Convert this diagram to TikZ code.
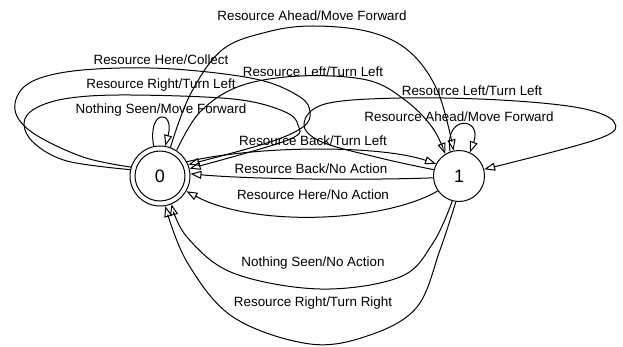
\documentclass[tikz,border=0pt]{standalone}
\usepackage{fontspec}
\setmainfont{Liberation Sans}
\usetikzlibrary{arrows.meta}
\begin{document}
\begin{tikzpicture}[x=1pt,y=1pt,
  edge/.style={line width=1pt, -{Triangle[open,length=11pt,width=8pt]}},
  lbl/.style={font=\fontsize{13.4}{15}\selectfont, inner sep=0pt},
  state/.style={circle, draw, line width=1pt, inner sep=0pt, font=\fontsize{18}{20}\selectfont}]
\useasboundingbox (0,0) rectangle (623,-347);

% states
\node[state, minimum size=60pt] (n0) at (160,-176) {};
\node[state, minimum size=50pt] (n0in) at (n0) {0};
\node[state, minimum size=51pt] (n1) at (459,-176) {1};

% labels
\node[lbl] (la) at (312,-16) {Resource Ahead/Move Forward};
\node[lbl] (lb) at (161,-60) {Resource Here/Collect};
\node[lbl] (lc) at (313,-72) {Resource Left/Turn Left};
\node[lbl] (ld) at (161,-85) {Resource Right/Turn Left};
\node[lbl] (le) at (472,-91) {Resource Left/Turn Left};
\node[lbl] (lf) at (161,-110) {Nothing Seen/Move Forward};
\node[lbl] (lg) at (459,-117) {Resource Ahead/Move Forward};
\node[lbl] (lh) at (313,-141) {Resource Back/Turn Left};
\node[lbl] (li) at (311,-169) {Resource Back/No Action};
\node[lbl] (lj) at (313,-195) {Resource Here/No Action};
\node[lbl] (lk) at (313,-263) {Nothing Seen/No Action};
\node[lbl] (ll) at (313,-303) {Resource Right/Turn Right};

% self loops on 0
\draw[edge] (n0.102) .. controls +(100:38) and +(75:38) .. (n0.80);
\draw[edge] plot[smooth, tension=0.6] coordinates {(n0.163) (83,-157) (33,-133) (15,-110) (25,-86) (60,-73) (120,-68) (187,-70) (260,-80) (300,-97) (310,-112) (303,-127) (267,-143) (n0.22)};
\draw[edge] plot[smooth, tension=0.6] coordinates {(n0.168) (67,-161) (34,-143) (24,-123) (36,-108) (70,-98) (130,-95) (233,-99) (283,-111) (298,-125) (288,-140) (n0.14)};

% self loops on 1
\draw[edge] (n1.110) .. controls +(100:38) and +(70:38) .. (n1.65);
\draw[edge] plot[smooth, tension=0.6] coordinates {(n1.166) (380,-158) (322,-142) (304,-124) (325,-104) (400,-98) (500,-100) (580,-108) (614,-122) (598,-139) (n1.15)};

% 0 -> 1
\draw[edge] plot[smooth, tension=0.6] coordinates {(n0.70) (190,-95) (222,-50) (267,-32) (313,-26) (370,-32) (410,-52) (438,-92) (n1.102)};
\draw[edge] plot[smooth, tension=0.6] coordinates {(n0.57) (200,-112) (240,-86) (300,-76) (367,-80) (405,-100) (432,-127) (n1.122)};
\draw[edge] (n0.28) .. controls (260,-145) and (380,-145) .. (n1.152);

% 1 -> 0
\draw[edge] (n1.184) .. controls (380,-180) and (260,-180) .. (n0.4);
\draw[edge] (n1.215) .. controls (385,-222) and (255,-228) .. (n0.-30);
\draw[edge] plot[smooth, tension=0.6] coordinates {(n1.255) (433,-243) (400,-277) (320,-289) (233,-273) (187,-237) (n0.-68)};
\draw[edge] plot[smooth, tension=0.6] coordinates {(n1.263) (440,-250) (417,-307) (370,-335) (310,-344) (233,-317) (187,-262) (n0.-80)};
\end{tikzpicture}
\end{document}
